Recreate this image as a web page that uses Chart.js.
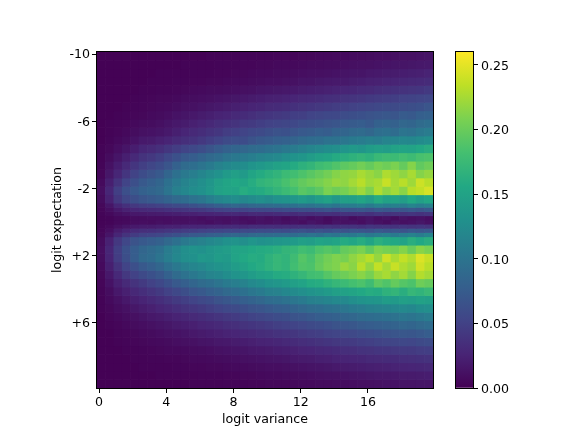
<!DOCTYPE html>
<html><head><meta charset="utf-8">
<style>html,body{margin:0;padding:0;background:#fff}canvas{position:absolute;left:0;top:0}</style>
<script src="https://cdn.jsdelivr.net/npm/chart.js@4"></script>
</head><body>
<canvas id="heat" width="581" height="436"></canvas>
<canvas id="bar" width="581" height="436"></canvas>
<script>
// Values, in thousandths. Rows top to bottom, columns left to right.
const r00=[1,1,1,1,1,1,1,1,1,1,1,1,1,2,2,2,2,3,3,3,3,4,4,4,5,5,6,6,7,7,8,8,9,10,10,11,12,12,13,14];
const r01=[1,1,1,1,1,1,1,1,1,1,2,2,2,2,3,3,3,4,4,5,5,6,6,6,7,8,8,9,9,10,11,12,12,13,14,15,15,16,17,18];
const r02=[1,1,1,1,1,1,1,2,2,2,2,3,3,3,4,4,5,5,6,7,7,8,8,9,10,11,11,12,13,14,15,15,17,18,19,20,21,22,23,25];
const r03=[1,1,1,1,1,1,2,2,2,3,3,4,4,5,5,6,7,7,8,9,10,10,11,12,14,14,16,17,18,18,20,21,23,24,25,26,28,29,30,32];
const r04=[1,1,1,1,1,2,2,3,3,4,5,6,7,8,8,9,10,11,12,14,15,16,17,18,20,21,22,24,25,27,28,30,31,33,35,36,37,39,40,43];
const r05=[1,1,1,1,2,3,4,5,5,6,8,9,10,11,13,14,16,17,19,21,23,24,25,27,29,30,32,34,35,38,39,41,43,45,46,47,50,51,53,55];
const r06=[1,1,1,2,3,4,5,6,7,9,11,12,14,16,18,20,22,24,26,28,31,32,33,36,38,40,42,44,46,48,50,52,54,56,58,58,60,62,64,68];
const r07=[1,1,2,3,4,5,7,8,10,13,15,17,20,22,25,27,30,32,35,38,40,42,44,47,48,52,54,56,56,60,62,64,66,68,70,68,74,72,78,80];
const r08=[1,2,3,4,6,8,9,11,14,17,20,23,26,29,33,36,38,42,44,47,50,52,54,56,60,62,64,66,68,72,74,76,72,80,82,80,86,84,90,94];
const r09=[1,2,4,6,9,12,13,15,18,22,27,30,33,37,41,46,49,52,56,58,62,65,64,68,72,74,78,76,82,84,88,90,86,94,96,92,100,98,104,108];
const r10=[1,3,6,9,13,18,19,23,26,31,35,37,42,47,52,58,61,60,66,71,74,78,80,83,88,92,93,98,98,102,106,108,112,110,116,118,121,120,124,128];
const r11=[2,5,10,15,21,28,31,35,41,46,52,56,61,67,74,80,84,86,90,92,96,99,104,107,112,118,122,126,128,134,139,136,142,146,144,149,152,150,156,161];
const r12=[2,8,15,22,30,38,42,48,56,64,72,76,82,88,93,100,104,106,110,115,119,122,128,132,136,143,148,152,158,162,166,170,166,174,178,176,181,177,184,186];
const r13=[3,12,21,30,40,48,54,60,68,80,90,94,100,106,114,120,124,126,133,138,143,148,152,158,165,170,178,182,188,194,198,204,198,206,202,208,198,212,196,202];
const r14=[4,16,28,40,51,60,66,72,84,96,105,110,118,125,131,140,146,140,152,158,164,168,176,180,186,192,198,204,212,216,218,226,220,214,228,222,216,226,212,218];
const r15=[7,22,38,52,63,72,78,84,96,106,115,122,128,136,146,152,156,152,160,168,172,176,184,190,197,202,206,212,218,216,224,232,222,226,238,224,232,222,240,232];
const r16=[10,28,48,63,72,80,84,88,100,112,120,126,130,138,148,152,150,160,156,158,164,170,176,182,192,188,194,208,202,206,214,222,210,228,216,224,214,232,236,244];
const r17=[8,24,42,54,62,68,72,76,82,88,92,98,102,110,118,122,126,120,124,128,124,130,132,136,140,135,142,148,138,146,146,152,144,158,148,150,144,156,146,154];
// Around the dark band the rows are half as tall.
const f36=[5,15,28,36,42,46,48,50,54,58,60,64,68,72,78,82,86,82,86,88,90,92,95,96,100,98,102,105,100,108,108,112,106,114,110,112,108,116,110,114];
const f37=[4,10,18,24,28,30,32,33,36,38,40,42,44,47,50,52,54,52,55,56,56,58,60,60,62,62,64,66,63,68,68,70,66,72,69,70,68,72,68,72];
const f38=[3,6,11,14,17,18,19,20,21,22,24,24,26,26,28,29,30,28,31,31,30,32,33,32,34,33,35,36,34,37,37,38,36,40,37,38,37,40,37,40];
const f39=[2,3,6,7,9,9,10,10,10,11,11,12,10,13,12,11,13,10,12,14,11,13,9,12,14,10,13,8,12,14,9,12,15,10,13,8,14,11,13,10];
const f40=[2,3,6,7,9,10,9,11,10,12,11,13,12,10,13,11,14,12,10,13,12,14,11,13,10,15,12,9,14,12,13,10,15,12,9,14,11,13,16,12];
const f41=[3,6,11,15,18,20,20,22,24,24,26,27,28,29,30,31,32,30,33,33,34,33,35,34,36,36,35,38,36,38,38,36,40,38,39,37,40,38,40,38];
const f42=[4,10,20,26,32,35,36,38,41,44,46,48,50,52,54,56,55,58,58,60,60,62,60,64,65,62,66,64,68,66,70,68,66,72,68,70,66,72,70,72];
const f43=[5,15,28,38,45,50,52,55,60,64,68,72,74,78,80,84,86,84,88,90,90,92,94,92,96,100,96,104,100,106,104,110,104,108,112,106,110,114,108,116];
const r22=[8,24,42,55,66,72,76,80,88,96,105,110,114,120,124,130,132,128,134,130,132,136,138,140,146,144,150,148,152,158,154,160,152,164,158,156,150,162,156,162];
const r23=[10,28,48,64,76,85,90,96,108,118,128,132,130,136,140,144,150,152,156,158,160,164,170,172,180,176,186,190,186,198,202,208,196,210,206,204,212,200,214,208];
const r24=[9,26,46,62,76,88,92,100,110,120,128,130,138,136,142,140,150,156,160,158,166,172,168,178,190,184,196,204,210,206,216,224,232,218,240,226,236,228,246,238];
const r25=[7,22,38,52,63,72,78,85,96,104,112,118,122,128,132,136,142,148,156,160,166,172,168,180,188,186,198,206,210,220,214,232,218,236,224,238,228,222,242,232];
const r26=[5,17,30,42,50,58,64,70,80,90,98,104,110,116,120,126,132,136,142,148,152,158,160,166,172,180,182,190,198,202,208,214,206,220,226,216,224,212,230,224];
const r27=[4,13,23,31,38,44,50,56,64,72,78,84,90,94,100,106,110,114,122,126,132,136,140,146,150,158,160,166,172,176,182,186,178,194,188,198,190,186,202,198];
const r28=[3,9,17,23,29,34,39,44,50,56,62,68,72,78,82,88,92,96,102,106,112,114,120,124,128,132,136,140,146,148,152,156,160,158,166,170,162,172,168,174];
const r29=[2,7,12,17,22,26,30,34,39,44,48,52,57,60,66,70,74,78,82,86,92,94,98,102,106,112,114,118,122,122,128,132,134,136,142,140,146,144,148,146];
const r30=[2,5,9,12,16,20,23,27,30,34,38,41,44,48,52,56,58,62,66,68,72,76,78,82,86,90,92,96,98,102,106,108,112,114,116,120,122,120,126,128];
const r31=[1,4,6,9,11,14,17,19,22,25,28,31,33,36,39,42,45,48,51,54,57,60,62,66,68,72,76,78,80,84,86,90,92,94,96,98,102,100,104,108];
const r32=[1,2,4,6,8,10,12,14,16,19,21,23,26,28,30,33,35,38,40,42,45,48,50,52,55,58,60,63,66,68,70,74,76,78,80,82,86,84,88,92];
const r33=[1,1,3,4,5,7,8,10,12,13,15,17,19,21,23,25,27,29,31,33,35,37,39,41,44,46,48,51,53,55,57,60,62,64,66,68,70,69,72,76];
const r34=[1,1,2,3,4,5,6,7,8,10,11,12,14,15,17,18,20,21,23,25,26,28,30,32,34,36,38,40,42,44,45,47,49,51,53,54,56,55,58,60];
const r35=[1,1,1,2,2,3,4,5,6,6,7,8,9,10,12,13,14,15,17,18,19,21,22,24,26,27,29,30,32,34,35,37,38,40,41,42,44,44,46,47];
const r36=[1,1,1,1,2,2,3,3,4,4,5,6,6,7,8,9,10,11,12,13,14,15,16,18,19,20,22,23,25,26,27,28,30,31,32,32,34,35,36,37];
const r37=[1,1,1,1,1,2,2,2,2,3,3,4,4,5,5,6,7,7,8,9,10,10,11,12,13,14,15,16,18,19,20,21,22,23,24,25,26,27,28,29];
const r38=[1,1,1,1,1,1,1,2,2,2,2,2,3,3,3,4,4,5,5,6,7,7,8,8,9,10,11,12,12,13,14,15,16,17,17,18,19,19,20,21];
const r39=[1,1,1,1,1,1,1,1,1,1,1,2,2,2,2,3,3,3,4,4,5,5,5,6,7,7,8,8,9,9,10,11,11,12,13,13,14,14,15,15];
const rows=[r00,r01,r02,r03,r04,r05,r06,r07,r08,r09,r10,r11,r12,r13,r14,r15,r16,r17,f36,f37,f38,f39,f40,f41,f42,f43,r22,r23,r24,r25,r26,r27,r28,r29,r30,r31,r32,r33,r34,r35,r36,r37,r38,r39];
// Height of each row above in logit-expectation units.
const rowSpans=rows.map((r,i)=>(i>=18&&i<26)?0.25:0.5);

const xTickValues=[0,4,8,12,16];
const yTickValues=[-10,-6,-2,2,6];
const yTickLabels=['-10','-6','-2','+2','+6'];
const barTickValues=[0,0.05,0.10,0.15,0.20,0.25];
const xLabel='logit variance';
const yLabel='logit expectation';
const vMax=0.26;
const colSpan=0.5;
const xStart=-0.125;
const yStart=-10.125;
const viridis=['#440154','#482475','#414487','#355f8d','#2a788e','#21918c','#22a884','#44bf70','#7ad151','#bddf26','#fde725'];

function hexRgb(h){return [1,3,5].map(i=>parseInt(h.slice(i,i+2),16));}
function colorOf(v){
  const t=Math.max(0,Math.min(1,v/vMax))*(viridis.length-1);
  const i=Math.min(viridis.length-2,Math.floor(t));const f=t-i;
  const a=hexRgb(viridis[i]),b=hexRgb(viridis[i+1]);
  return 'rgb('+a.map((c,k)=>Math.round(c+(b[k]-c)*f)).join(',')+')';
}
const FONT={family:'"DejaVu Sans"',size:12.6};
const frame={id:'frame',afterDraw(c){const a=c.chartArea,x=c.ctx;x.save();x.strokeStyle='#000';x.lineWidth=1;
  x.strokeRect(Math.round(a.left)-0.5,Math.round(a.top)-0.5,Math.round(a.right-a.left)+1,Math.round(a.bottom-a.top)+1);x.restore();}};
const tickGrid={display:true,drawOnChartArea:false,offset:false,tickLength:5,tickColor:'#000',tickWidth:1};

let edge=yStart;
const datasets=rows.map((row,i)=>{
  const lo=edge;const hi=edge+rowSpans[i];edge=hi;
  return {
    data:row.map((v,j)=>({x:xStart+colSpan*(j+0.5),y:[lo,hi]})),
    backgroundColor:row.map(v=>colorOf(v/1000)),
    borderWidth:0,grouped:false,barPercentage:1,categoryPercentage:1
  };
});
new Chart(document.getElementById('heat'),{
  type:'bar',data:{datasets},plugins:[frame],
  options:{responsive:false,animation:false,events:[],
    layout:{padding:{left:0,top:52,right:148,bottom:0}},
    plugins:{legend:{display:false},tooltip:{enabled:false}},
    scales:{
      x:{type:'linear',offset:false,min:xStart,max:xStart+20,
        afterBuildTicks(s){s.ticks=xTickValues.map(v=>({value:v}));},
        afterFit(s){s.height=48;},
        grid:tickGrid,border:{color:'#000'},
        ticks:{color:'#000',font:FONT,padding:2,maxRotation:0,autoSkip:false},
        title:{display:true,text:xLabel,color:'#000',font:FONT,padding:{top:0,bottom:9}}},
      y:{type:'linear',reverse:true,min:yStart,max:yStart+20,
        afterBuildTicks(s){s.ticks=yTickValues.map(v=>({value:v}));},
        afterFit(s){s.width=97;},
        grid:tickGrid,border:{color:'#000'},
        ticks:{color:'#000',font:FONT,padding:2,autoSkip:false,labelOffset:1,
          callback(v){return yTickLabels[yTickValues.indexOf(v)];}},
        title:{display:true,text:yLabel,color:'#000',font:FONT,padding:{top:50,bottom:0}}}
    }}
});
new Chart(document.getElementById('bar'),{
  type:'bar',
  data:{labels:['scale'],datasets:[{data:[[0,vMax]],borderWidth:0,barPercentage:1,categoryPercentage:1,
    backgroundColor(ctx){
      const a=ctx.chart.chartArea;if(!a)return viridis[0];
      const y=ctx.chart.scales.y;
      const g=ctx.chart.ctx.createLinearGradient(0,y.getPixelForValue(0),0,y.getPixelForValue(vMax));
      viridis.forEach((c,i)=>g.addColorStop(i/(viridis.length-1),c));
      return g;}}]},
  plugins:[frame],
  options:{responsive:false,animation:false,events:[],
    layout:{padding:{left:456,top:52,right:0,bottom:0}},
    plugins:{legend:{display:false},tooltip:{enabled:false}},
    scales:{
      x:{afterFit(s){s.height=48;},grid:{display:false},border:{display:false},ticks:{display:false}},
      y:{position:'right',min:0,max:vMax,
        afterBuildTicks(s){s.ticks=barTickValues.map(v=>({value:v}));},
        afterFit(s){s.width=108;},
        grid:tickGrid,border:{color:'#000'},
        ticks:{color:'#000',font:FONT,padding:3,autoSkip:false,labelOffset:1.5,callback(v){return v.toFixed(2);}}}
    }}
});
</script>
</body></html>
